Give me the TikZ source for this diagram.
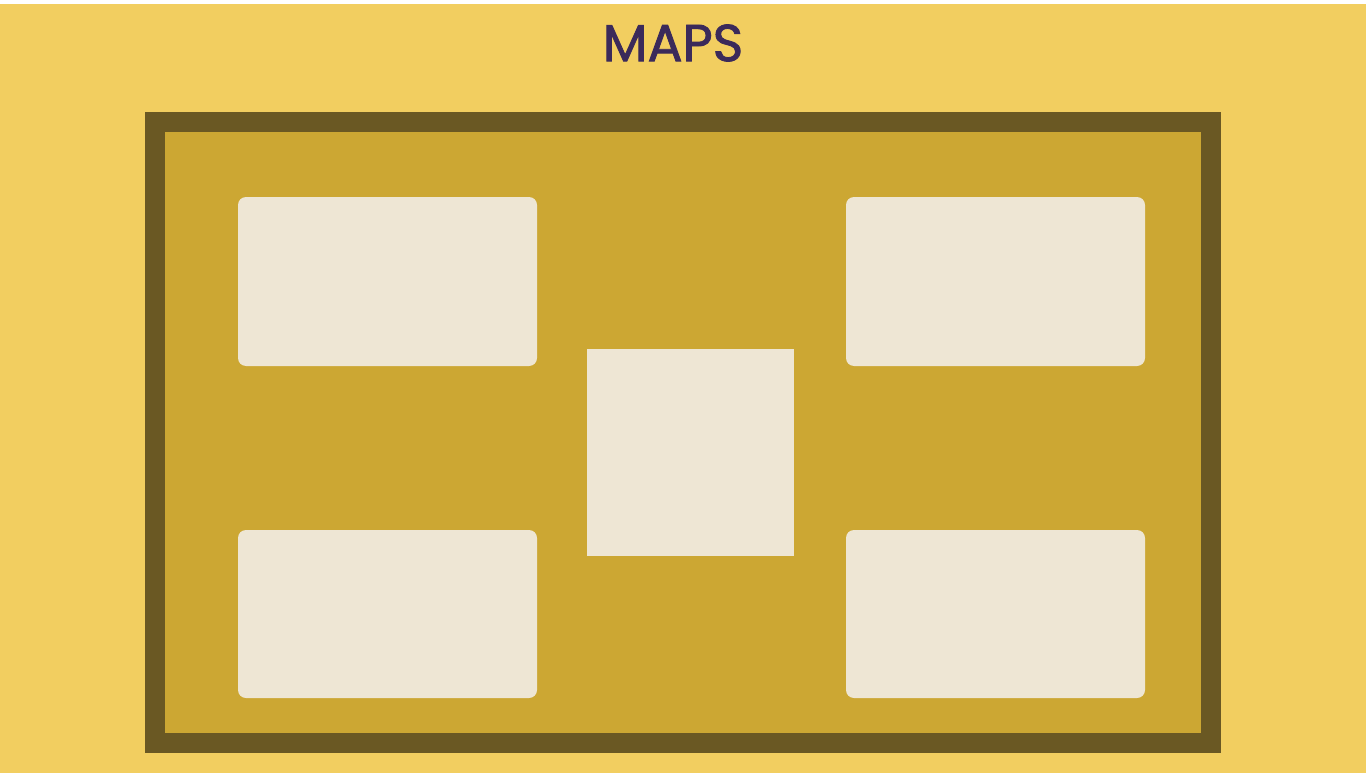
\documentclass[tikz,border=0pt]{standalone}
\usepackage{fontspec}
\newfontfamily\titlefont[BoldFont={Poppins}, BoldFeatures={FakeBold=1.6}]{Poppins}
\definecolor{bgyellow}{HTML}{F2CE60}
\definecolor{framebrown}{HTML}{6A5823}
\definecolor{boardgold}{HTML}{CCA733}
\definecolor{cardcream}{HTML}{EEE6D4}
\definecolor{titlepurple}{HTML}{3B2A5A}
\tikzset{
  card/.style={fill=cardcream, draw=none, rounded corners=8pt},
  square/.style={fill=cardcream, draw=none},
}
\begin{document}
\begin{tikzpicture}[x=1pt,y=-1pt]
\useasboundingbox (0,0) rectangle (1366,773);
\fill[white] (0,0) rectangle (1366,773);
\fill[bgyellow] (0,4) rectangle (1366,773);
\node[text=titlepurple, font=\titlefont\bfseries\fontsize{52}{52}\selectfont, anchor=center] (title) at (673,43) {MAPS};
\fill[framebrown] (145,112) rectangle (1221,753);
\fill[boardgold] (165,132) rectangle (1201,733);
\path[card] (238,197) rectangle (537,366) coordinate (tl);
\path[card] (846,197) rectangle (1145,366) coordinate (tr);
\path[card] (238,530) rectangle (537,698) coordinate (bl);
\path[card] (846,530) rectangle (1145,698) coordinate (br);
\path[square] (587,349) rectangle (794,556) coordinate (c);
\end{tikzpicture}
\end{document}
